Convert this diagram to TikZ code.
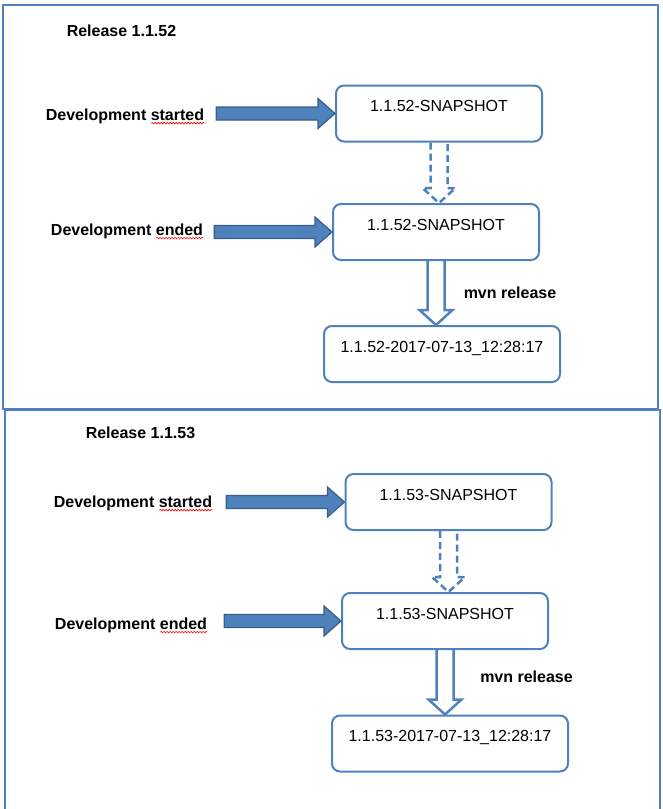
\documentclass[tikz,border=0pt]{standalone}
\usepackage{fontspec}
\setmainfont{Liberation Sans}
\usetikzlibrary{calc, positioning, decorations.pathmorphing}

\definecolor{boxblue}{HTML}{4F81BD}
\definecolor{darkblue}{HTML}{385D8A}

% filled block arrow, horizontal, tip on the second node
\newcommand{\fatarrow}[2]{%
  \path let \p1 = (#1), \p2 = (#2) in
    [fill=boxblue, draw=darkblue, line width=1.2pt]
    (\x1, \y2+6.5pt) -- (\x2-17pt, \y2+6.5pt) -- (\x2-17pt, \y2+15pt) -- (\x2, \y2)
    -- (\x2-17pt, \y2-15pt) -- (\x2-17pt, \y2-6.5pt) -- (\x1, \y2-6.5pt) -- cycle;}

% hollow block arrow, downwards
\newcommand{\hollowarrow}[3]{%
  \draw[#1] let \p1 = (#2), \p2 = (#3) in
    (\x1-8.5pt, \y1) -- (\x1-8.5pt, \y2+15pt) -- (\x1-16.5pt, \y2+15pt) -- (\x1, \y2)
    -- (\x1+16.5pt, \y2+15pt) -- (\x1+8.5pt, \y2+15pt) -- (\x1+8.5pt, \y1);}

\begin{document}
\begin{tikzpicture}[x=1pt, y=-1pt, font=\fontsize{16}{19}\selectfont,
  ver/.style={draw=boxblue, line width=2pt, rounded corners=8pt, minimum width=206pt,
    text height=22pt, text depth=26pt, inner ysep=4pt},
  lbl/.style={font=\fontsize{16}{19}\selectfont\bfseries, inner sep=0pt},
  frame/.style={draw=boxblue, line width=2pt},
  hollow/.style={draw=boxblue, line width=2.5pt, line join=miter},
  typo/.style={draw=red, line width=0.6pt, decorate,
    decoration={snake, segment length=3pt, amplitude=0.8pt}}]
\useasboundingbox (0,0) rectangle (663,809);

\draw[frame] (3,5) rectangle (658,409);
\draw[frame] (5,410) rectangle (660,820);

% release 1.1.52
\node[lbl] (rel1) at (121.5,31) {Release 1.1.52};
\node[lbl] (start1) at (125,116) {Development started};
\node[lbl] (end1) at (127,231) {Development ended};
\node[ver] (snap1a) at (439,113.5) {1.1.52-SNAPSHOT};
\node[ver] (snap1b) at (436,232) {1.1.52-SNAPSHOT};
\node[ver, minimum width=236pt] (fix1) at (442,354) {1.1.52-2017-07-13\_12:28:17};
\node[lbl] (mvn1) at (510,293) {mvn release};

\fatarrow{$(start1.east)+(12pt,0)$}{snap1a.west}
\fatarrow{$(end1.east)+(11pt,0)$}{snap1b.west}
\hollowarrow{hollow, dashed, dash pattern=on 7pt off 4pt}{snap1a.south}{snap1b.north}
\hollowarrow{hollow}{snap1b.south}{fix1.north}

\draw[typo] ($(start1.base east)+(-53pt,-3pt)$) -- ($(start1.base east)+(0,-3pt)$);
\draw[typo] ($(end1.base east)+(-47pt,-3pt)$) -- ($(end1.base east)+(0,-3pt)$);

% release 1.1.53
\node[lbl] (rel2) at (140.5,433) {Release 1.1.53};
\node[lbl] (start2) at (133,503) {Development started};
\node[lbl] (end2) at (131,625) {Development ended};
\node[ver] (snap2a) at (448.5,502) {1.1.53-SNAPSHOT};
\node[ver] (snap2b) at (445,621) {1.1.53-SNAPSHOT};
\node[ver, minimum width=236pt] (fix2) at (450,743.5) {1.1.53-2017-07-13\_12:28:17};
\node[lbl] (mvn2) at (526.5,677) {mvn release};

\fatarrow{$(start2.east)+(14pt,0)$}{snap2a.west}
\fatarrow{$(end2.east)+(17pt,0)$}{snap2b.west}
\hollowarrow{hollow, dashed, dash pattern=on 7pt off 4pt}{snap2a.south}{snap2b.north}
\hollowarrow{hollow}{snap2b.south}{fix2.north}

\draw[typo] ($(start2.base east)+(-53pt,-3pt)$) -- ($(start2.base east)+(0,-3pt)$);
\draw[typo] ($(end2.base east)+(-47pt,-3pt)$) -- ($(end2.base east)+(0,-3pt)$);
\end{tikzpicture}
\end{document}
